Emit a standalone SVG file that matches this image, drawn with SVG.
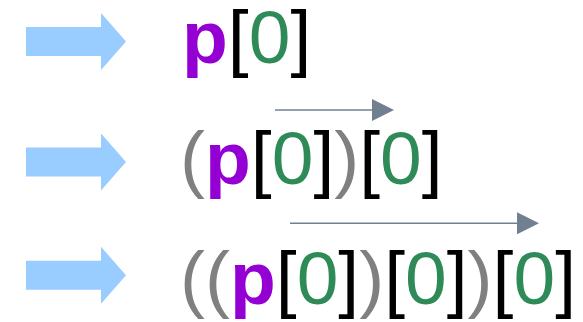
<svg xmlns="http://www.w3.org/2000/svg" width="583" height="322" viewBox="0 0 583 322">
  <defs>
    <style>
      .blue { fill: #99ccff; }
      .expr { font-family: "Liberation Sans", Arial, sans-serif; font-size: 75px; }
      .p { fill: #9400d3; font-weight: bold; }
      .b { fill: #000000; }
      .z { fill: #2e8b57; }
      .g { fill: #808080; }
      .conn { stroke: #708090; stroke-width: 1.5; fill: none; }
    </style>
    <marker id="ah" markerUnits="userSpaceOnUse" markerWidth="22" markerHeight="22" refX="0" refY="11" orient="auto">
      <path d="M0,0 L22,11 L0,22 Z" fill="#708090"/>
    </marker>
    <path id="bigArrow" d="M0,-14.5 L75,-14.5 L75,-28.5 L100,0 L75,28.5 L75,14.5 L0,14.5 Z"/>
  </defs>

  <g id="arrow1"><use href="#bigArrow" class="blue" x="26" y="41.5"/></g>
  <g id="arrow2"><use href="#bigArrow" class="blue" x="26" y="162"/></g>
  <g id="arrow3"><use href="#bigArrow" class="blue" x="26" y="275.3"/></g>

  <g id="expr1">
    <text class="expr" x="182" y="63"><tspan class="p">p</tspan><tspan class="b">[</tspan><tspan class="z">0</tspan><tspan class="b">]</tspan></text>
  </g>
  <g id="expr2">
    <text class="expr" x="180" y="184"><tspan class="g">(</tspan><tspan class="p">p</tspan><tspan class="b">[</tspan><tspan class="z">0</tspan><tspan class="b">]</tspan><tspan class="g">)</tspan><tspan class="b">[</tspan><tspan class="z">0</tspan><tspan class="b">]</tspan></text>
  </g>
  <g id="expr3">
    <text class="expr" x="180" y="304"><tspan class="g">((</tspan><tspan class="p">p</tspan><tspan class="b">[</tspan><tspan class="z">0</tspan><tspan class="b">]</tspan><tspan class="g">)</tspan><tspan class="b">[</tspan><tspan class="z">0</tspan><tspan class="b">]</tspan><tspan class="g">)</tspan><tspan class="b">[</tspan><tspan class="z">0</tspan><tspan class="b">]</tspan></text>
  </g>

  <g id="connectors">
    <line class="conn" x1="275" y1="110" x2="372" y2="110" marker-end="url(#ah)"/>
    <line class="conn" x1="290" y1="223.3" x2="517" y2="223.3" marker-end="url(#ah)"/>
  </g>
</svg>
